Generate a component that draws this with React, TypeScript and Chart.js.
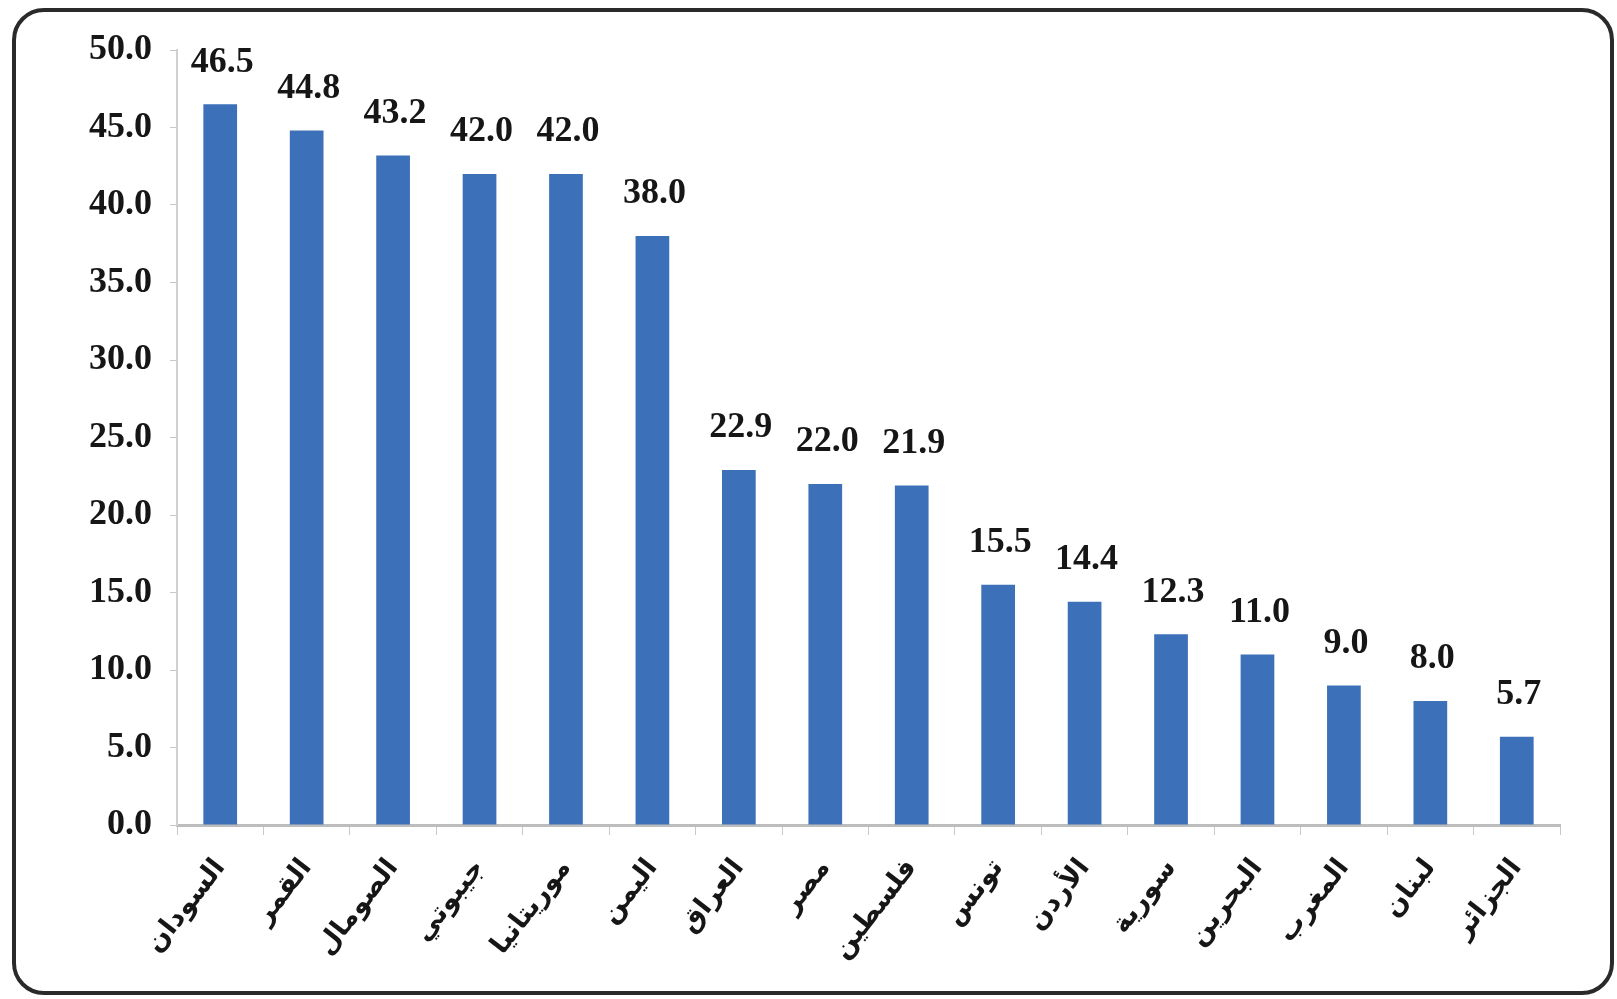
import React, { useEffect, useRef } from "react";
import { Chart, registerables } from "chart.js";

Chart.register(...registerables);

const categories = [
  "السودان",
  "القمر",
  "الصومال",
  "جيبوتي",
  "موريتانيا",
  "اليمن",
  "العراق",
  "مصر",
  "فلسطين",
  "تونس",
  "الأردن",
  "سورية",
  "البحرين",
  "المغرب",
  "لبنان",
  "الجزائر",
];
const values = [46.5, 44.8, 43.2, 42.0, 42.0, 38.0, 22.9, 22.0, 21.9, 15.5, 14.4, 12.3, 11.0, 9.0, 8.0, 5.7];
const yMin = 0;
const yMax = 50;
const yStep = 5;

const valueLabels = {
  id: "valueLabels",
  afterDatasetsDraw(chart: any) {
    const ctx = chart.ctx;
    const meta = chart.getDatasetMeta(0);
    ctx.save();
    ctx.font = "bold 36px 'Liberation Serif', serif";
    ctx.fillStyle = "#161616";
    ctx.textAlign = "center";
    ctx.textBaseline = "bottom";
    meta.data.forEach((bar: any, i: number) => {
      ctx.fillText(values[i].toFixed(1), bar.x + 2, bar.y - 24);
    });
    ctx.restore();
  },
};

export default function App() {
  const ref = useRef<HTMLCanvasElement | null>(null);
  useEffect(() => {
    const chart = new Chart(ref.current as HTMLCanvasElement, {
      type: "bar",
      data: {
        labels: categories,
        datasets: [
          {
            data: values,
            backgroundColor: "#3C70B8",
            borderWidth: 0,
            barPercentage: 0.78,
            categoryPercentage: 0.5,
          },
        ],
      },
      options: {
        animation: false,
        responsive: false,
        maintainAspectRatio: false,
        layout: { padding: { top: 50, right: 57, left: 0, bottom: 0 } },
        plugins: { legend: { display: false }, tooltip: { enabled: false } },
        scales: {
          x: {
            grid: {
              display: true,
              drawOnChartArea: false,
              tickLength: 10,
              color: "#c8c8c8",
              offset: true,
            },
            border: { display: true, color: "#bdbdbd", width: 3 },
            ticks: {
              autoSkip: false,
              maxRotation: 52,
              minRotation: 52,
              padding: 18,
              color: "#161616",
              font: { family: "'DejaVu Sans', sans-serif", size: 27, weight: "bold" },
            },
            afterFit(scale: any) {
              scale.height = 174;
            },
          },
          y: {
            min: yMin,
            max: yMax,
            grid: {
              display: true,
              drawOnChartArea: false,
              tickLength: 7,
              color: "#c8c8c8",
            },
            border: { display: true, color: "#d0d0d0", width: 2 },
            ticks: {
              stepSize: yStep,
              padding: 18,
              color: "#161616",
              font: { family: "'Liberation Serif', serif", size: 36, weight: "bold" },
              callback: (v: any) => Number(v).toFixed(1),
            },
            afterFit(scale: any) {
              scale.width = 177;
            },
          },
        },
      },
      plugins: [valueLabels],
    });
    return () => chart.destroy();
  }, []);

  return (
    <div style={{ position: "fixed", left: 0, top: 0, width: 1617, height: 999, background: "#fff" }}>
      <div
        style={{
          position: "absolute",
          left: 12,
          top: 8,
          width: 1594,
          height: 979,
          border: "4px solid #2a2a2a",
          borderRadius: 32,
          boxSizing: "content-box",
        }}
      />
      <canvas
        ref={ref}
        width={1617}
        height={999}
        style={{ position: "absolute", left: 0, top: 0, width: 1617, height: 999 }}
      />
    </div>
  );
}
